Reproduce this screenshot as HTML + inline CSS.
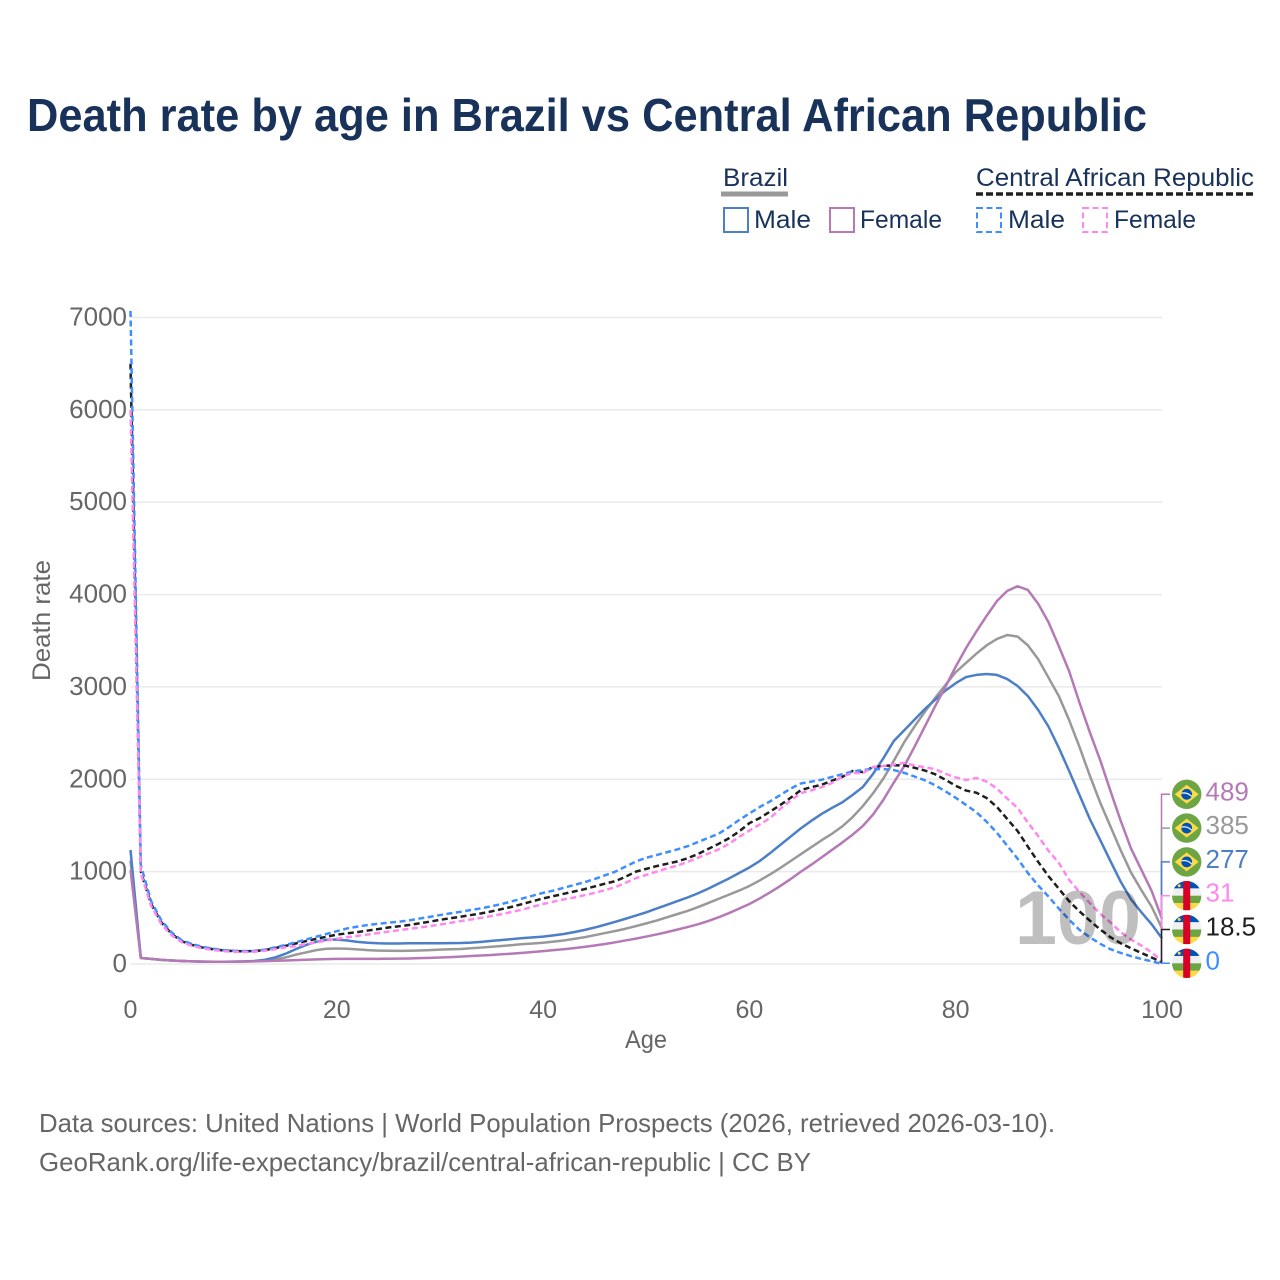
<!DOCTYPE html>
<html lang="en">
<head>
<meta charset="utf-8">
<title>Death rate by age in Brazil vs Central African Republic</title>
<style>
html,body{margin:0;padding:0;background:#fff;}
svg{display:block;font-family:"Liberation Sans",sans-serif;}
</style>
</head>
<body>
<svg id="chart" xmlns="http://www.w3.org/2000/svg" width="1280" height="1280" viewBox="0 0 1280 1280">
  <rect width="1280" height="1280" fill="#fff"/>
  <text x="27" y="131" font-size="46" font-weight="700" fill="#18325a" textLength="1120" lengthAdjust="spacingAndGlyphs">Death rate by age in Brazil vs Central African Republic</text>

  <g font-size="25" fill="#18325a">
    <text x="723" y="186" textLength="65" lengthAdjust="spacingAndGlyphs">Brazil</text>
    <line x1="721" y1="194" x2="788" y2="194" stroke="#999" stroke-width="5"/>
    <text x="976" y="186" textLength="278" lengthAdjust="spacingAndGlyphs">Central African Republic</text>
    <line x1="976" y1="194" x2="1255" y2="194" stroke="#1f1f1f" stroke-width="3.5" stroke-dasharray="7 3"/>
    <rect x="724" y="208" width="24" height="24" fill="none" stroke="#4c7fc7" stroke-width="2"/>
    <text x="754" y="228" textLength="57" lengthAdjust="spacingAndGlyphs">Male</text>
    <rect x="830" y="208" width="24" height="24" fill="none" stroke="#b57ab5" stroke-width="2"/>
    <text x="860" y="228" textLength="82" lengthAdjust="spacingAndGlyphs">Female</text>
    <rect x="977" y="208" width="24" height="24" fill="none" stroke="#3f8eff" stroke-width="2" stroke-dasharray="6 3.5"/>
    <text x="1008" y="228" textLength="57" lengthAdjust="spacingAndGlyphs">Male</text>
    <rect x="1083" y="208" width="24" height="24" fill="none" stroke="#ff88ee" stroke-width="2" stroke-dasharray="6 3.5"/>
    <text x="1114" y="228" textLength="82" lengthAdjust="spacingAndGlyphs">Female</text>
  </g>

  <g id="grid"></g>
  <g id="yticks"></g>
  <g id="xticks"></g>
  <text transform="translate(50,620.5) rotate(-90)" text-anchor="middle" font-size="25" fill="#666" textLength="121" lengthAdjust="spacingAndGlyphs">Death rate</text>
  <text x="625" y="1048" font-size="25" fill="#666" textLength="42" lengthAdjust="spacingAndGlyphs">Age</text>

  <g id="series"></g>
  <g id="ends"></g>
  <text x="1078" y="944" text-anchor="middle" font-size="76" font-weight="700" fill="#000" fill-opacity="0.25" textLength="126" lengthAdjust="spacingAndGlyphs">100</text>

  <g font-size="26" fill="#666">
    <text x="39" y="1132" textLength="1016" lengthAdjust="spacingAndGlyphs">Data sources: United Nations | World Population Prospects (2026, retrieved 2026-03-10).</text>
    <text x="39" y="1171" textLength="772" lengthAdjust="spacingAndGlyphs">GeoRank.org/life-expectancy/brazil/central-african-republic | CC BY</text>
  </g>
</svg>
<script>
const xTickLabels = [0, 20, 40, 60, 80, 100];
const yTickLabels = [0, 1000, 2000, 3000, 4000, 5000, 6000, 7000];
const brazilMale = [1234,65,55,45,38,33,28,26,25,25,26,28,33,45,70,110,160,205,240,262,265,255,240,230,224,222,222,224,225,225,225,226,227,232,240,250,260,270,280,288,296,310,325,345,368,395,425,457,490,525,560,600,640,680,720,765,815,870,925,985,1045,1115,1200,1290,1380,1470,1550,1625,1690,1750,1830,1917,2060,2230,2415,2530,2645,2760,2860,2960,3040,3107,3130,3140,3130,3085,3010,2900,2750,2570,2340,2090,1830,1570,1345,1115,890,700,560,430,277];
const brazilTotal = [1120,65,55,45,38,33,28,26,25,25,26,27,30,35,48,70,100,125,150,165,168,165,158,150,145,143,142,143,146,150,155,160,163,170,178,187,195,205,215,222,230,242,255,272,290,312,335,357,382,410,440,470,505,540,575,615,660,705,750,795,845,905,970,1040,1115,1190,1265,1340,1410,1490,1590,1710,1850,2010,2200,2400,2570,2730,2880,3020,3160,3260,3360,3450,3520,3562,3545,3450,3300,3100,2900,2640,2350,2040,1750,1490,1230,990,800,620,385];
const brazilFemale = [1017,65,55,45,38,33,28,26,25,25,25,26,28,31,35,38,42,46,50,53,55,55,55,55,56,57,58,60,63,66,70,75,80,86,92,98,105,112,120,130,140,150,160,172,185,200,217,235,255,275,297,320,345,372,400,430,465,505,550,600,650,710,775,845,920,1000,1075,1155,1235,1315,1400,1495,1620,1780,1965,2140,2350,2570,2790,3000,3220,3420,3600,3770,3930,4040,4090,4050,3900,3700,3440,3170,2830,2510,2210,1875,1550,1250,1020,790,489];
const cafMale = [7070,1070,680,470,340,255,215,185,165,150,143,140,142,155,180,205,235,265,295,325,355,385,405,422,435,447,458,472,492,510,530,548,565,585,603,625,650,680,710,740,770,795,825,855,885,920,960,1000,1055,1110,1150,1180,1210,1240,1275,1320,1365,1410,1480,1559,1630,1700,1760,1830,1900,1955,1975,1995,2025,2055,2085,2100,2111,2110,2100,2070,2030,1990,1935,1870,1800,1722,1645,1540,1420,1280,1140,985,850,730,600,480,370,290,220,160,120,85,55,30,0];
const cafTotal = [6500,1000,650,450,325,245,205,178,160,147,140,138,140,150,172,195,222,248,272,295,318,332,345,362,378,395,408,422,440,458,478,495,512,530,548,570,595,620,650,680,710,735,760,785,810,840,870,897,945,1000,1030,1060,1085,1110,1145,1190,1245,1300,1360,1435,1525,1580,1650,1722,1800,1884,1915,1940,1985,2025,2090,2079,2133,2145,2152,2150,2125,2095,2055,1995,1930,1878,1855,1797,1700,1570,1440,1270,1105,950,815,680,570,470,375,290,225,170,120,70,18.5];
const cafFemale = [6000,980,630,430,310,235,195,170,152,140,132,130,133,143,160,180,195,215,235,253,272,290,305,320,335,350,365,380,395,410,427,445,465,482,500,520,540,565,590,620,650,675,700,720,745,770,800,832,880,930,965,1000,1035,1065,1105,1150,1195,1240,1300,1375,1445,1510,1580,1680,1770,1851,1880,1915,1960,2030,2068,2068,2133,2145,2160,2176,2150,2130,2110,2060,2020,1992,2014,1975,1900,1790,1690,1530,1385,1225,1094,910,780,660,545,450,345,265,200,125,31];

const NS = 'http://www.w3.org/2000/svg';
const plot = {x0: 130.5, x1: 1162, y0: 964, y7000: 317.5};
function xScale(age) { return plot.x0 + (plot.x1 - plot.x0) * age / 100; }
function yScale(v) { return plot.y0 - (plot.y0 - plot.y7000) * v / 7000; }
function make(tag, attrs, parent) {
  const el = document.createElementNS(NS, tag);
  for (const k in attrs) el.setAttribute(k, attrs[k]);
  parent.appendChild(el);
  return el;
}
const gridG = document.getElementById('grid');
const yG = document.getElementById('yticks');
const xG = document.getElementById('xticks');
const seriesG = document.getElementById('series');
const endsG = document.getElementById('ends');

yTickLabels.forEach(function (t) {
  const line = make('line', {x1: plot.x0, x2: plot.x1, y1: yScale(t), y2: yScale(t), stroke: '#eaeaea', 'stroke-width': 1.5}, gridG);
  
  
  const label = make('text', {x: 127, y: yScale(t) + 8, 'text-anchor': 'end', 'font-size': 26, fill: '#666'}, yG);
  
  
  label.textContent = String(t);
});
xTickLabels.forEach(function (t) {
  const label = make('text', {x: xScale(t), y: 1018, 'text-anchor': 'middle', 'font-size': 25, fill: '#666'}, xG);
  
  
  label.textContent = String(t);
});

const seriesList = [
  {key: 'brazil-total', values: brazilTotal, color: '#999999', dash: null, flag: 'br'},
  {key: 'brazil-male', values: brazilMale, color: '#4c7fc7', dash: null, flag: 'br'},
  {key: 'brazil-female', values: brazilFemale, color: '#b57ab5', dash: null, flag: 'br'},
  {key: 'caf-total', values: cafTotal, color: '#1f1f1f', dash: '6 3.5', flag: 'cf'},
  {key: 'caf-male', values: cafMale, color: '#3f8eff', dash: '6 3.5', flag: 'cf'},
  {key: 'caf-female', values: cafFemale, color: '#ff88ee', dash: '6 3.5', flag: 'cf'}
];
seriesList.forEach(function (s) {
  const d = s.values.map(function (v, age) {
    return (age ? 'L' : 'M') + xScale(age).toFixed(2) + ' ' + yScale(v).toFixed(2);
  }).join('');
  const attrs = {d: d, fill: 'none', stroke: s.color, 'stroke-width': 2.5, 'stroke-linejoin': 'round'};
  if (s.dash) attrs['stroke-dasharray'] = s.dash;
  const path = make('path', attrs, seriesG);
  
  
});

function drawFlag(kind, cx, cy, name) {
  const g = make('g', {}, endsG);
  
  
  const r = 14.7;
  if (kind === 'br') {
    make('circle', {cx: cx, cy: cy, r: r, fill: '#6da544'}, g);
    make('polygon', {points: [cx, cy - 9.5, cx + 12, cy, cx, cy + 9.5, cx - 12, cy].join(' '), fill: '#ffda44'}, g);
    make('circle', {cx: cx, cy: cy, r: 5.4, fill: '#0052b4'}, g);
    make('path', {d: 'M' + (cx - 5.2) + ' ' + (cy - 1) + 'Q' + cx + ' ' + (cy - 2.5) + ' ' + (cx + 5) + ' ' + (cy + 2), fill: 'none', stroke: '#f0f0f0', 'stroke-width': 1.3}, g);
  } else {
    const id = name + '-clip';
    const clip = make('clipPath', {id: id}, g);
    make('circle', {cx: cx, cy: cy, r: r}, clip);
    const body = make('g', {'clip-path': 'url(#' + id + ')'}, g);
    const bands = ['#0052b4', '#f0f0f0', '#6da544', '#ffda44'];
    bands.forEach(function (c, i) {
      make('rect', {x: cx - r, y: cy - r + i * r / 2, width: 2 * r, height: r / 2 + 0.3, fill: c}, body);
    });
    make('rect', {x: cx - 3.5, y: cy - r, width: 7, height: 2 * r, fill: '#d80027'}, body);
    make('circle', {cx: cx - 7.5, cy: cy - 10, r: 1.5, fill: '#ffda44'}, body);
  }
}

const ranked = seriesList.slice().sort(function (a, b) {
  return b.values[100] - a.values[100];
});
ranked.forEach(function (s, i) {
  const endValue = s.values[100];
  const cy = 794.3 + i * 33.8;
  const leader = make('path', {d: 'M' + (plot.x1 - 0.5) + ' ' + yScale(endValue) + 'L' + (plot.x1 - 0.5) + ' ' + cy + 'L1170 ' + cy, fill: 'none', stroke: s.color, 'stroke-width': 1.5}, endsG);
  
  
  drawFlag(s.flag, 1186.7, cy, 'flag-' + s.key);
  const label = make('text', {x: 1205.5, y: cy + 6, 'font-size': 26, fill: s.color}, endsG);
  
  
  label.textContent = String(endValue);
});
</script>
</body>
</html>
